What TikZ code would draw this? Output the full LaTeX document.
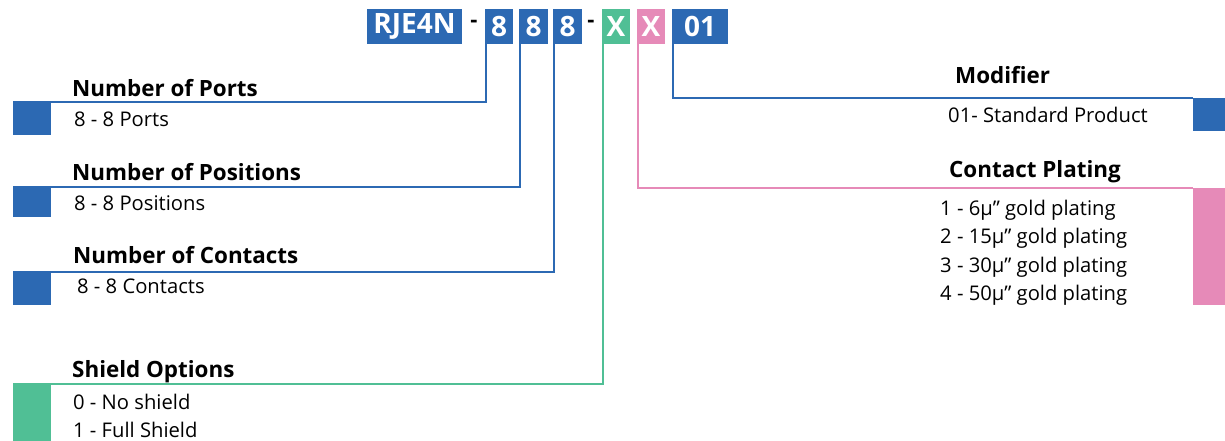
\documentclass[tikz,border=0pt]{standalone}
\usepackage{fontspec}
\setmainfont{Open Sans}
\definecolor{cblue}{HTML}{2C69B3}
\definecolor{cgreen}{HTML}{50BF95}
\definecolor{cpink}{HTML}{E68AB8}
\begin{document}
\begin{tikzpicture}[x=1pt,y=-1pt,
  codebox/.style={fill=#1,text=white,inner sep=0,minimum height=35pt,font=\fontsize{28}{30}\selectfont\bfseries},
  sq/.style={fill=#1,inner sep=0,anchor=north west},
  conn/.style={draw=#1,line width=2pt},
  ttl/.style={anchor=base west,inner sep=0,font=\fontsize{22.4}{24}\selectfont\bfseries},
  txt/.style={anchor=base west,inner sep=0,font=\fontsize{20.2}{22}\selectfont},
  dashsep/.style={inner sep=0,font=\fontsize{22}{22}\selectfont\bfseries}]
\useasboundingbox (0,0) rectangle (1225,441);
% code boxes
\node[codebox=cblue,minimum width=95pt] (rj) at (414.5,26.5) {RJE4N};
\node[dashsep] (d1) at (474,24) {-};
\node[codebox=cblue,minimum width=28pt] (p1) at (499,26.5) {8};
\node[codebox=cblue,minimum width=29pt] (p2) at (533.5,26.5) {8};
\node[codebox=cblue,minimum width=29pt] (p3) at (567.5,26.5) {8};
\node[dashsep] (d2) at (591,24) {-};
\node[codebox=cgreen,minimum width=28pt] (xg) at (616,26.5) {X};
\node[codebox=cpink,minimum width=28pt] (xp) at (651,26.5) {X};
\node[codebox=cblue,minimum width=56pt] (mo) at (700,26.5) {01};
% squares
\node[sq=cblue,minimum width=38pt,minimum height=33pt] (s1) at (13,102) {};
\node[sq=cblue,minimum width=38pt,minimum height=30pt] (s2) at (13,187) {};
\node[sq=cblue,minimum width=38pt,minimum height=33pt] (s3) at (13,272) {};
\node[sq=cgreen,minimum width=38pt,minimum height=57pt] (s4) at (13,384) {};
\node[sq=cblue,minimum width=32pt,minimum height=33pt] (s5) at (1193,98) {};
\node[sq=cpink,minimum width=32pt,minimum height=117pt] (s6) at (1193,188) {};
% connectors
\draw[conn=cblue] ([xshift=1pt]p1.south west) |- (s1.north west);
\draw[conn=cblue] ([xshift=1pt]p2.south west) |- (s2.north west);
\draw[conn=cblue] ([xshift=1pt]p3.south west) |- (s3.north west);
\draw[conn=cgreen] ([xshift=1pt]xg.south west) |- (s4.north west);
\draw[conn=cpink] ([xshift=1pt]xp.south west) |- (s6.north west);
\draw[conn=cblue] ([xshift=1pt]mo.south west) |- (s5.north west);
% texts left
\node[ttl] (t1) at (72,97) {Number of Ports};
\node[txt] (v1) at (74,126) {8 - 8 Ports};
\node[ttl] (t2) at (72,180) {Number of Positions};
\node[txt] (v2) at (74,210) {8 - 8 Positions};
\node[ttl] (t3) at (73,263) {Number of Contacts};
\node[txt] (v3) at (77,293) {8 - 8 Contacts};
\node[ttl] (t4) at (72,377) {Shield Options};
\node[txt] (v4a) at (73,409) {0 - No shield};
\node[txt] (v4b) at (73,437) {1 - Full Shield};
% texts right
\node[ttl] (t5) at (955,84) {Modifier};
\node[txt] (v5) at (948,122) {01- Standard Product};
\node[ttl] (t6) at (949,177) {Contact Plating};
\node[txt] (v6a) at (940,215) {1 - 6µ” gold plating};
\node[txt] (v6b) at (940,243) {2 - 15µ” gold plating};
\node[txt] (v6c) at (940,272) {3 - 30µ” gold plating};
\node[txt] (v6d) at (940,300) {4 - 50µ” gold plating};
\end{tikzpicture}
\end{document}
